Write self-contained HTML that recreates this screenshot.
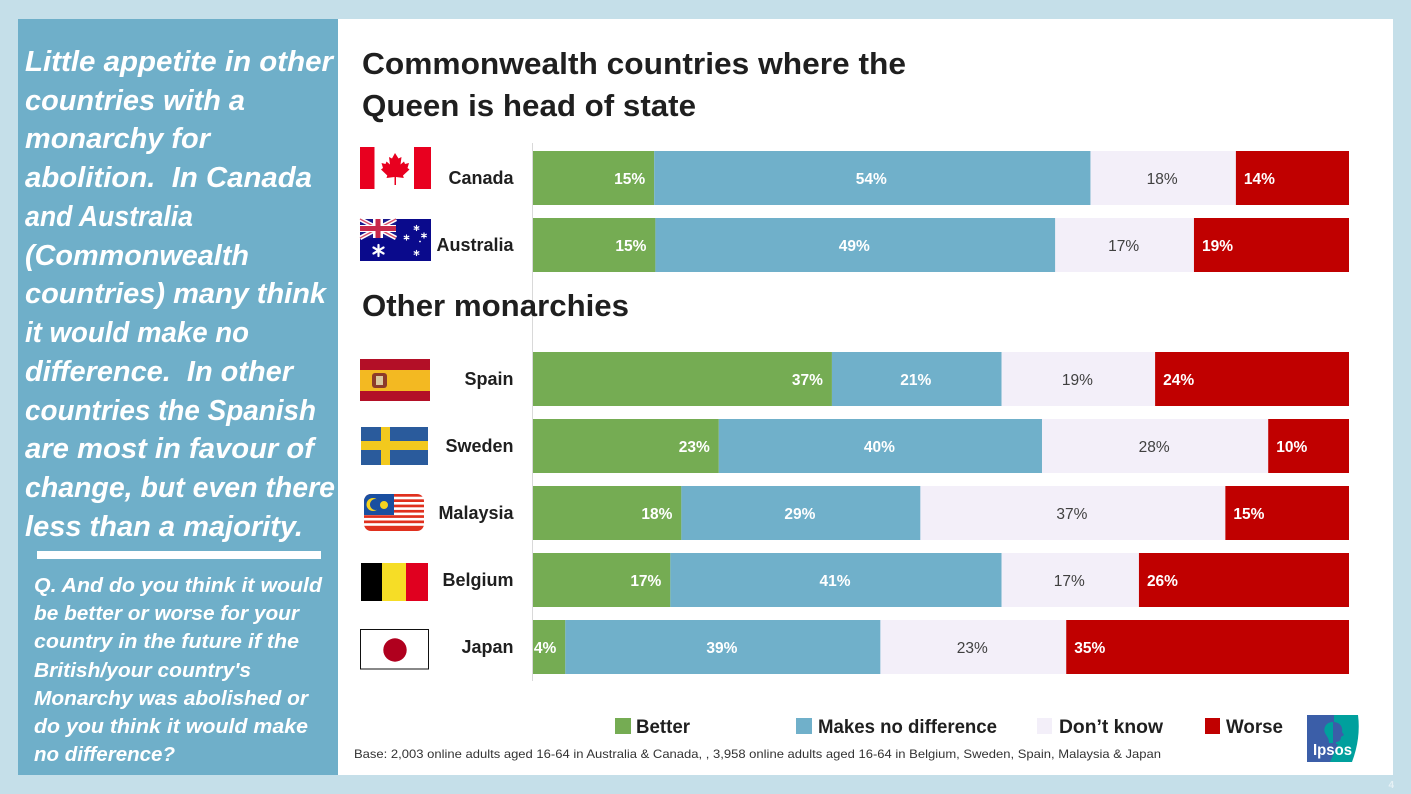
<!DOCTYPE html>
<html lang="en">
<head>
<meta charset="utf-8">
<title>Commonwealth countries and other monarchies</title>
<style>
html,body{margin:0;padding:0;background:#c5dfe9;width:1411px;height:794px;overflow:hidden}
svg{display:block}
text{font-family:"Liberation Sans",sans-serif}
.lead{font-size:29px;font-weight:700;font-style:italic;fill:#fff}
.q{font-size:20px;font-weight:700;font-style:italic;fill:#fff}
.title{font-size:31px;font-weight:700;fill:#1f1f1f}
.legend{font-size:19px;font-weight:700;fill:#1f1f1f}
</style>
</head>
<body>
<svg id="slide" width="1411" height="794" viewBox="0 0 1411 794" xmlns="http://www.w3.org/2000/svg">
<rect x="0" y="0" width="1411" height="794" fill="#c5dfe9"/>
<rect x="338" y="19" width="1055" height="756" fill="#ffffff"/>
<rect x="18" y="19" width="320" height="756" fill="#6fafc9"/>

<g>
<text class="lead" x="25" y="71" textLength="308" lengthAdjust="spacingAndGlyphs">Little appetite in other</text>
<text class="lead" x="25" y="110" textLength="220" lengthAdjust="spacingAndGlyphs">countries with a</text>
<text class="lead" x="25" y="148" textLength="185" lengthAdjust="spacingAndGlyphs">monarchy for</text>
<text class="lead" x="25" y="187" textLength="287" lengthAdjust="spacingAndGlyphs" xml:space="preserve">abolition.  In Canada</text>
<text class="lead" x="25" y="226" textLength="168" lengthAdjust="spacingAndGlyphs">and Australia</text>
<text class="lead" x="25" y="265" textLength="224" lengthAdjust="spacingAndGlyphs">(Commonwealth</text>
<text class="lead" x="25" y="303" textLength="301" lengthAdjust="spacingAndGlyphs">countries) many think</text>
<text class="lead" x="25" y="342" textLength="224" lengthAdjust="spacingAndGlyphs">it would make no</text>
<text class="lead" x="25" y="381" textLength="268" lengthAdjust="spacingAndGlyphs" xml:space="preserve">difference.  In other</text>
<text class="lead" x="25" y="420" textLength="291" lengthAdjust="spacingAndGlyphs">countries the Spanish</text>
<text class="lead" x="25" y="458" textLength="289" lengthAdjust="spacingAndGlyphs">are most in favour of</text>
<text class="lead" x="25" y="497" textLength="310" lengthAdjust="spacingAndGlyphs">change, but even there</text>
<text class="lead" x="25" y="536" textLength="278" lengthAdjust="spacingAndGlyphs">less than a majority.</text>
</g>
<rect x="37" y="551" width="284" height="8" fill="#ffffff"/>
<g>
<text class="q" x="34" y="592" textLength="288" lengthAdjust="spacingAndGlyphs">Q. And do you think it would</text>
<text class="q" x="34" y="620" textLength="265" lengthAdjust="spacingAndGlyphs">be better or worse for your</text>
<text class="q" x="34" y="648" textLength="265" lengthAdjust="spacingAndGlyphs">country in the future if the</text>
<text class="q" x="34" y="677" textLength="217" lengthAdjust="spacingAndGlyphs">British/your country's</text>
<text class="q" x="34" y="705" textLength="274" lengthAdjust="spacingAndGlyphs">Monarchy was abolished or</text>
<text class="q" x="34" y="733" textLength="274" lengthAdjust="spacingAndGlyphs">do you think it would make</text>
<text class="q" x="34" y="761" textLength="141" lengthAdjust="spacingAndGlyphs">no difference?</text>
</g>

<text class="title" x="362" y="74" textLength="544" lengthAdjust="spacingAndGlyphs">Commonwealth countries where the</text>
<text class="title" x="362" y="116" textLength="334" lengthAdjust="spacingAndGlyphs">Queen is head of state</text>

<line x1="532.5" y1="143" x2="532.5" y2="681" stroke="#d9d9d9" stroke-width="1"/>
<text class="title" x="362" y="316" textLength="267" lengthAdjust="spacingAndGlyphs">Other monarchies</text>

<g id="chart"></g>

<g>
<rect x="360" y="147" width="71" height="42" fill="#ffffff"/>
<rect x="360" y="147" width="14.5" height="42" fill="#e8001f"/>
<rect x="414" y="147" width="17" height="42" fill="#e8001f"/>
<polygon fill="#e8001f" points="395,153 398.500,158.500 401.500,157 400.500,164.500 404,161.500 405,164 409,163 407.500,168 409.500,169.500 403,175.500 403.800,178 396,177 396,185 394.500,185 394.500,177 386.500,178 387.300,175.500 381,169.500 383,168 381.500,163 385.500,164 386.500,161.500 390,164.500 389,157 392,158.500"/>
</g>

<g>
<rect x="360" y="219" width="71" height="42" fill="#0a0a8c"/>
<rect x="360" y="219" width="36" height="19" fill="#1a1a8c"/>
<line x1="360" y1="219" x2="396" y2="238" stroke="#ffffff" stroke-width="4.500"/>
<line x1="396" y1="219" x2="360" y2="238" stroke="#ffffff" stroke-width="4.500"/>
<line x1="360" y1="219" x2="396" y2="238" stroke="#d8506a" stroke-width="1.400"/>
<line x1="396" y1="219" x2="360" y2="238" stroke="#d8506a" stroke-width="1.400"/>
<rect x="360" y="225" width="36" height="7" fill="#ffffff"/>
<rect x="373" y="219" width="10" height="19" fill="#ffffff"/>
<rect x="360" y="226" width="36" height="5" fill="#c8284a"/>
<rect x="375.500" y="219" width="5" height="19" fill="#c8284a"/>
<g stroke="#ffffff" stroke-linecap="round">
<path d="M378.500 245V256M373.500 247.500L383.500 253.500M383.500 247.500L373.500 253.500" stroke-width="2.200"/>
<path d="M416.500 225.500V230.500M414.200 226.800L418.800 229.200M418.800 226.800L414.200 229.200" stroke-width="1.200"/>
<path d="M406.500 235V240M404.200 236.300L408.800 238.700M408.800 236.300L404.200 238.700" stroke-width="1.200"/>
<path d="M424 233V238M421.700 234.300L426.300 236.700M426.300 234.300L421.700 236.700" stroke-width="1.200"/>
<path d="M416.500 250.500V255.500M414.200 251.800L418.800 254.200M418.800 251.800L414.200 254.200" stroke-width="1.200"/>
</g>
<circle cx="420" cy="241.500" r="0.900" fill="#ffffff"/>
</g>

<g>
<rect x="360" y="359" width="70" height="42" fill="#b30f27"/>
<rect x="360" y="370" width="70" height="21" fill="#f3b922"/>
<rect x="372" y="373" width="15" height="15" rx="3" fill="#8c3b2a"/>
<rect x="376" y="376" width="7" height="9" fill="#d9c9a0"/>
</g>

<g>
<rect x="361" y="427" width="67" height="38" fill="#2a5b9c"/>
<rect x="361" y="441" width="67" height="9" fill="#f2c91e"/>
<rect x="381" y="427" width="9" height="38" fill="#f2c91e"/>
</g>

<g>
<clipPath id="my-clip"><rect x="364" y="494" width="60" height="37" rx="7"/></clipPath>
<g clip-path="url(#my-clip)">
<rect x="364" y="494" width="60" height="37" fill="#ffffff"/>
<rect x="364" y="494" width="60" height="2.700" fill="#e0301e"/>
<rect x="364" y="499.300" width="60" height="2.700" fill="#e0301e"/>
<rect x="364" y="504.600" width="60" height="2.700" fill="#e0301e"/>
<rect x="364" y="509.900" width="60" height="2.700" fill="#e0301e"/>
<rect x="364" y="515.200" width="60" height="2.700" fill="#e0301e"/>
<rect x="364" y="520.500" width="60" height="2.700" fill="#e0301e"/>
<rect x="364" y="525.800" width="60" height="5.200" fill="#e0301e"/>
<rect x="364" y="494" width="30" height="21" fill="#1a4fa0"/>
<circle cx="373" cy="504.500" r="6.500" fill="#f5d320"/>
<circle cx="375.500" cy="504.500" r="5.500" fill="#1a4fa0"/>
<circle cx="384" cy="505" r="4" fill="#f5d320"/>
</g>
</g>

<g>
<rect x="361" y="563" width="21" height="38" fill="#000000"/>
<rect x="382" y="563" width="24" height="38" fill="#f6dd26"/>
<rect x="406" y="563" width="22" height="38" fill="#e0001f"/>
</g>

<g>
<rect x="360.500" y="629.500" width="68" height="39.500" fill="#ffffff" stroke="#111111" stroke-width="1"/>
<circle cx="395" cy="650" r="11.700" fill="#b0001e"/>
</g>

<g>
<g>
<rect x="615" y="718" width="16" height="16" fill="#75ac53"/>
<text class="legend" x="636" y="733" textLength="54" lengthAdjust="spacingAndGlyphs">Better</text>
</g>
<g>
<rect x="796" y="718" width="16" height="16" fill="#70b0ca"/>
<text class="legend" x="818" y="733" textLength="179" lengthAdjust="spacingAndGlyphs">Makes no difference</text>
</g>
<g>
<rect x="1037" y="718" width="15" height="16" fill="#f3eff9"/>
<text class="legend" x="1059" y="733" textLength="104" lengthAdjust="spacingAndGlyphs">Don’t know</text>
</g>
<g>
<rect x="1205" y="718" width="15" height="16" fill="#c00000"/>
<text class="legend" x="1226" y="733" textLength="57" lengthAdjust="spacingAndGlyphs">Worse</text>
</g>
</g>

<text x="354" y="758" font-size="12" fill="#333333" textLength="807" lengthAdjust="spacingAndGlyphs">Base: 2,003 online adults aged 16-64 in Australia &amp; Canada, ,  3,958 online adults aged 16-64 in Belgium, Sweden, Spain, Malaysia &amp; Japan</text>

<g>
<path d="M1307 715H1358Q1361 738 1352 762H1307Z" fill="#00a09d"/>
<path d="M1307 715H1334V744H1338L1330 762H1307Z" fill="#3b5ea8"/>
<path d="M1333 722C1326 722 1323 728 1325 733C1327 737 1329 738 1329 743H1333Z" fill="#00a09d"/>
<path d="M1333 722C1340 722 1343 727 1342 732L1344 735L1341 737C1341 741 1338 742 1336 742V745H1333Z" fill="#3b5ea8"/>
<text x="1313" y="755" font-size="15.500" font-weight="700" fill="#ffffff" textLength="39" lengthAdjust="spacingAndGlyphs">Ipsos</text>
</g>

<text x="1388.500" y="788" font-size="10" font-weight="700" fill="#e6f1f5">4</text>

<script>
const categories = ['Canada', 'Australia', '', 'Spain', 'Sweden', 'Malaysia', 'Belgium', 'Japan'];
const seriesNames = ['Better', 'Makes no difference', "Don't know", 'Worse'];
const better = [15, 15, 0, 37, 23, 18, 17, 4];
const noDifference = [54, 49, 0, 21, 40, 29, 41, 39];
const dontKnow = [18, 17, 0, 19, 28, 37, 17, 23];
const worse = [14, 19, 0, 24, 10, 15, 26, 35];

const seriesValues = [better, noDifference, dontKnow, worse];
const seriesColors = ['#75ac53', '#70b0ca', '#f3eff9', '#c00000'];
const plotLeft = 533;
const plotRight = 1349;
const plotTop = 151;
const rowStep = 67;
const barHeight = 54;
const NS = 'http://www.w3.org/2000/svg';
const chart = document.getElementById('chart');

function xShare(share) {
  return plotLeft + share * (plotRight - plotLeft);
}
function yRow(index) {
  return plotTop + index * rowStep;
}
function slug(name) {
  return name.toLowerCase().replace(/[^a-z]+/g, '-');
}

categories.forEach(function (category, row) {
  if (!category) return;
  const total = seriesValues.reduce(function (sum, values) { return sum + values[row]; }, 0);
  const top = yRow(row);
  const label = document.createElementNS(NS, 'text');
  
  
  label.setAttribute('x', 513.5);
  label.setAttribute('y', top + 33);
  label.setAttribute('text-anchor', 'end');
  label.setAttribute('font-size', '18');
  label.setAttribute('font-weight', '700');
  label.setAttribute('fill', '#1f1f1f');
  label.textContent = category;
  chart.appendChild(label);

  let running = 0;
  seriesValues.forEach(function (values, s) {
    const value = values[row];
    const x0 = xShare(running / total);
    running += value;
    const x1 = xShare(running / total);

    const bar = document.createElementNS(NS, 'rect');
    
    
    bar.setAttribute('x', x0);
    bar.setAttribute('y', top);
    bar.setAttribute('width', x1 - x0);
    bar.setAttribute('height', barHeight);
    bar.setAttribute('fill', seriesColors[s]);
    chart.appendChild(bar);

    const text = document.createElementNS(NS, 'text');
    
    
    text.setAttribute('y', top + 33);
    text.setAttribute('font-size', '15.5');
    if (s === 0) {
      text.setAttribute('x', x1 - 9);
      text.setAttribute('text-anchor', 'end');
    } else if (s === 3) {
      text.setAttribute('x', x0 + 8);
      text.setAttribute('text-anchor', 'start');
    } else {
      text.setAttribute('x', (x0 + x1) / 2 - 1);
      text.setAttribute('text-anchor', 'middle');
    }
    text.setAttribute('font-weight', s === 2 ? '400' : '700');
    text.setAttribute('fill', s === 2 ? '#404040' : '#ffffff');
    text.textContent = value + '%';
    chart.appendChild(text);
  });
});
</script>
</svg>
</body>
</html>
